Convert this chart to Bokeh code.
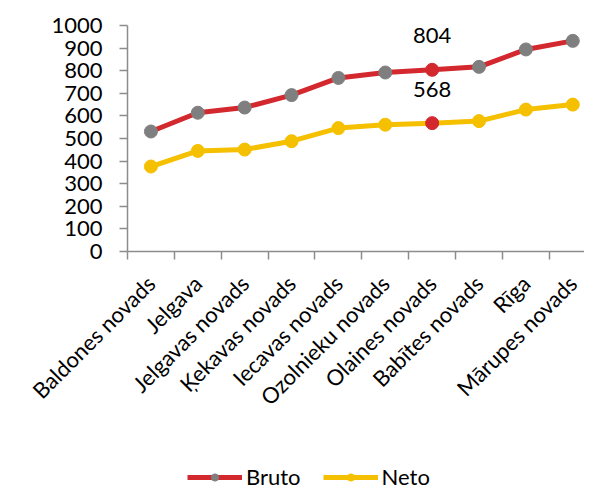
import numpy as np
from bokeh.plotting import figure
from bokeh.models import ColumnDataSource, FixedTicker, Range1d, Legend, LegendItem
from bokeh.core.properties import value
from bokeh.embed import file_html
from bokeh.resources import INLINE

categories = ["Baldones novads", "Jelgava", "Jelgavas novads", "Ķekavas novads",
              "Iecavas novads", "Ozolnieku novads", "Olaines novads",
              "Babītes novads", "Rīga", "Mārupes novads"]
bruto = [531, 614, 637, 692, 768, 792, 804, 817, 894, 932]
neto = [376, 445, 451, 488, 546, 561, 568, 577, 628, 650]
highlight = "Olaines novads"
y_ticks = [0, 100, 200, 300, 400, 500, 600, 700, 800, 900, 1000]

RED = "#D2282E"
GRAY = "#7F7F7F"
YELLOW = "#F5C000"
AXIS = "#8C8C8C"
FONT = "Lato"

# layout: the value axis (0..1000) occupies 226 px and the category span 457 px;
# the frame covers the whole figure so that axis labels and legend lie inside it
PLOT_H = 226
TOP_PAD = 25
BOTTOM_PAD = 241
FRAME_H = TOP_PAD + PLOT_H + BOTTOM_PAD
PLOT_W = 457
LEFT_PAD = 127
FRAME_W = 584
Y_MAX = y_ticks[-1]
Y_TOP = Y_MAX * (PLOT_H + TOP_PAD) / PLOT_H
Y_MIN = -Y_MAX * BOTTOM_PAD / PLOT_H
X_LO = -0.5
X_HI = len(categories) - 0.75
X_MIN = X_LO - LEFT_PAD * (X_HI - X_LO) / PLOT_W

x = list(range(len(categories)))
src = ColumnDataSource(dict(
    x=x, bruto=bruto, neto=neto, cat=categories,
    bcol=[RED if c == highlight else GRAY for c in categories],
    ncol=[RED if c == highlight else YELLOW for c in categories],
))

p = figure(frame_width=FRAME_W, frame_height=FRAME_H, output_backend="svg", toolbar_location=None,
           x_range=Range1d(X_MIN, X_HI), y_range=Range1d(Y_MIN, Y_TOP),
           min_border_left=0, min_border_right=0, min_border_top=0, min_border_bottom=0)
p.outline_line_color = None
p.xgrid.visible = False
p.ygrid.visible = False

bl = p.line("x", "bruto", source=src, line_color=RED, line_width=5)
bs = p.scatter("x", "bruto", source=src, size=13, fill_color="bcol", line_color="bcol")
nl = p.line("x", "neto", source=src, line_color=YELLOW, line_width=5)
ns = p.scatter("x", "neto", source=src, size=13, fill_color="ncol", line_color="ncol")

hi = categories.index(highlight)
lab = ColumnDataSource(dict(x=[hi, hi], y=[bruto[hi], neto[hi]],
                            t=[str(bruto[hi]), str(neto[hi])]))
p.text("x", "y", text="t", source=lab, text_align="center", text_baseline="middle",
       y_offset=-34, text_font=value(FONT), text_font_size="22px", text_color="#000000")

# axes
p.yaxis.fixed_location = X_LO
p.yaxis.ticker = FixedTicker(ticks=y_ticks)
p.yaxis.bounds = (0, Y_MAX)
p.yaxis.axis_line_color = AXIS
p.yaxis.major_tick_line_color = AXIS
p.yaxis.axis_line_width = 1.5
p.yaxis.major_tick_line_width = 1.5
p.yaxis.major_tick_out = 8
p.yaxis.major_tick_in = 0
p.yaxis.minor_tick_line_color = None
p.yaxis.major_label_standoff = 17
p.yaxis.major_label_text_font = FONT
p.yaxis.major_label_text_font_size = "22px"
p.yaxis.major_label_text_color = "#000000"

p.xaxis.fixed_location = 0
p.xaxis.bounds = (X_LO, X_HI)
p.xaxis.ticker = FixedTicker(ticks=x, minor_ticks=[i - 0.5 for i in range(len(categories) + 1)])
p.xaxis.major_label_overrides = {i: c for i, c in enumerate(categories)}
p.xaxis.major_tick_line_color = None
p.xaxis.minor_tick_line_color = AXIS
p.xaxis.minor_tick_line_width = 1.5
p.xaxis.minor_tick_out = 8
p.xaxis.minor_tick_in = 0
p.xaxis.axis_line_color = AXIS
p.xaxis.axis_line_width = 1.5
p.xaxis.major_label_orientation = np.pi / 4
p.xaxis.major_label_standoff = 20
p.xaxis.major_label_text_font = FONT
p.xaxis.major_label_text_font_size = "22px"
p.xaxis.major_label_text_color = "#000000"

legend = Legend(items=[LegendItem(label="Bruto", renderers=[bl, bs], index=0),
                       LegendItem(label="Neto", renderers=[nl, ns], index=0)],
                orientation="horizontal", location=(187, 2),
                glyph_width=55, glyph_height=18, label_height=18, label_standoff=4, spacing=22,
                label_text_font=FONT, label_text_font_size="22px",
                label_text_color="#000000", border_line_color=None,
                background_fill_alpha=0, margin=0, padding=0)
p.add_layout(legend, "center")

open("out.html", "w").write(file_html(p, INLINE))
